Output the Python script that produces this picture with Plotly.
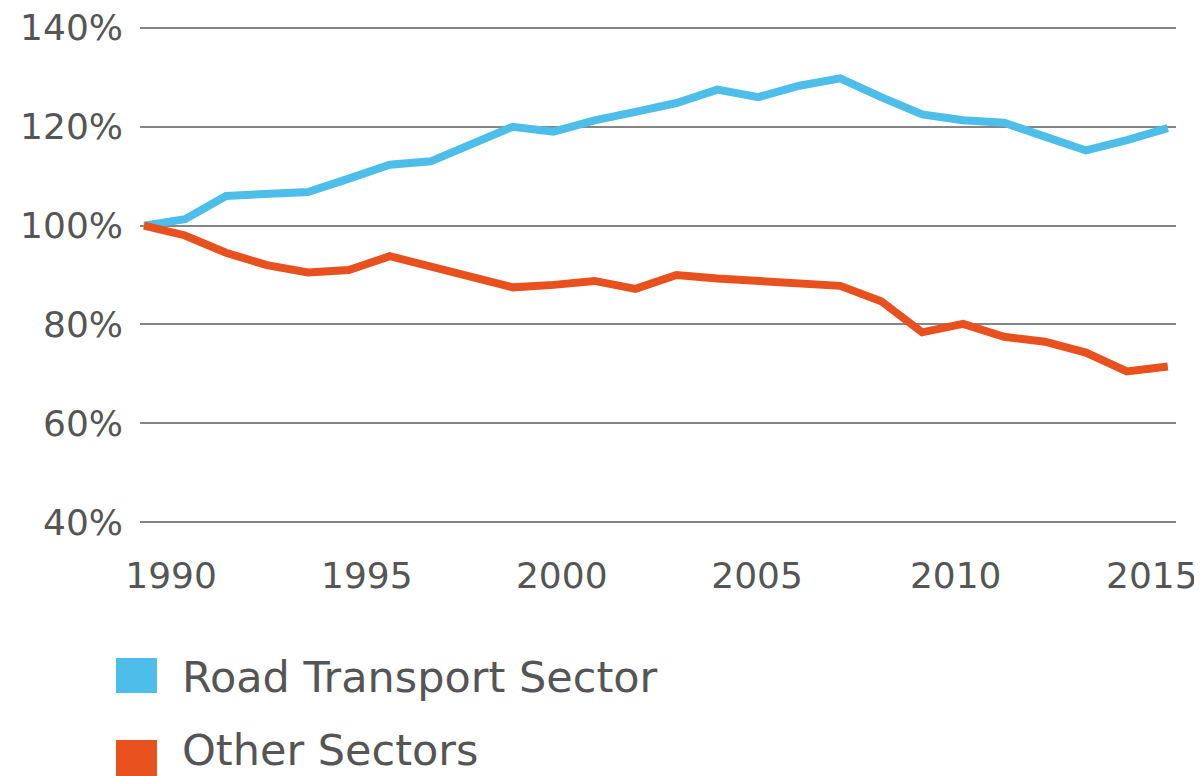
import plotly.graph_objects as go

# ---- data ----
years = list(range(1990, 2016))
road_transport = [100, 101.3, 106, 106.5, 106.8, 109.5, 112.3, 113, 116.5, 120,
                  119, 121.3, 123, 124.8, 127.5, 126, 128.3, 129.8, 126, 122.5,
                  121.3, 120.8, 118, 115.2, 117.3, 119.7]
other_sectors = [100, 98, 94.5, 92, 90.5, 91, 93.8, 91.8, 89.8, 87.5,
                 88, 88.8, 87.2, 90, 89.3, 88.8, 88.7, 87.8, 84.7, 78.4,
                 80.1, 77.5, 76.5, 74.3, 70.5, 71.5]
series_names = ["Road Transport Sector", "Other Sectors"]
series_colors = ["#4dbde9", "#e8501e"]
y_ticks = [40, 60, 80, 100, 120, 140]
y_tick_labels = ["40%", "60%", "80%", "100%", "120%", "140%"]
x_tick_labels = ["1990", "1995", "2000", "2005", "2010", "2015"]
x_tick_positions = [1990.66, 1995.44, 2000.2, 2004.97, 2009.82, 2014.61]

# ---- layout geometry (page pixels; the page body has an 8px margin) ----
OFF = 8
W, H = 1202 - OFF, 776 - OFF
L, R = 140 - OFF, 1176 - OFF
T, B = 18 - OFF, 532 - OFF
TEXT = "#555555"
FONT = "DejaVu Sans"


def px_x(p):
    return (p - OFF - L) / (R - L)


def px_y(p):
    return (B - (p - OFF)) / (B - T)


fig = go.Figure()
for vals, name, col in zip([road_transport, other_sectors], series_names, series_colors):
    fig.add_trace(go.Scatter(x=years, y=vals, name=name, mode="lines",
                             line=dict(color=col, width=8), showlegend=False))

# manual legend (large square swatches)
legend_rows = [(658, 693, 677), (740, 776, 750)]
for (y0, y1, yc), name, col in zip(legend_rows, series_names, series_colors):
    fig.add_shape(type="rect", xref="paper", yref="paper",
                  x0=px_x(116), x1=px_x(157), y0=px_y(y1), y1=px_y(y0),
                  fillcolor=col, line=dict(width=0))
    fig.add_annotation(xref="paper", yref="paper", x=px_x(180), y=px_y(yc),
                       text=name, showarrow=False, xanchor="left", yanchor="middle",
                       font=dict(family=FONT, size=43, color=TEXT))

fig.update_layout(
    width=W, height=H,
    margin=dict(l=L, r=W - R, t=T, b=H - B, pad=0, autoexpand=False),
    paper_bgcolor="white", plot_bgcolor="white",
    font=dict(family=FONT, size=36, color=TEXT),
    showlegend=False,
)
fig.update_xaxes(range=[1989.9, 2015.2], tickvals=x_tick_positions, ticktext=x_tick_labels,
                 showgrid=False, zeroline=False, showline=False, ticks="",
                 automargin=False, ticklabelstandoff=19, ticklabeloverflow="allow",
                 tickfont=dict(family=FONT, size=36, color=TEXT))
fig.update_yaxes(range=[38, 142], tickvals=y_ticks, ticktext=y_tick_labels,
                 showgrid=True, gridcolor="#858585", gridwidth=2, zeroline=False,
                 showline=False, ticks="", automargin=False, ticklabelstandoff=16,
                 ticklabeloverflow="allow",
                 tickfont=dict(family=FONT, size=36, color=TEXT))

fig.write_html("out.html")
